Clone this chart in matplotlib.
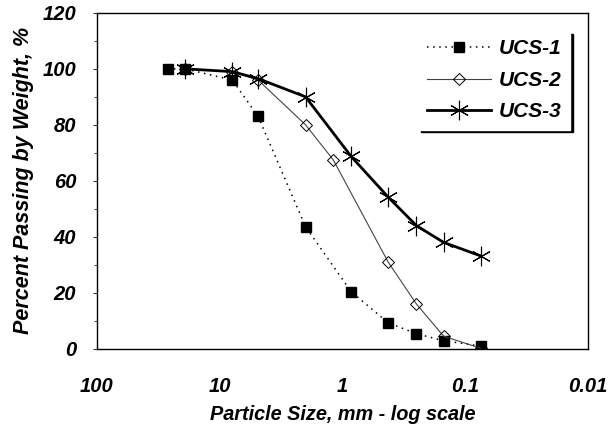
import matplotlib.pyplot as plt
from matplotlib.ticker import FixedLocator, MultipleLocator

plt.rcParams['font.family'] = ['Liberation Sans', 'DejaVu Sans']

# particle size (mm) and percent passing
size_1 = [26.5, 19.2, 7.9, 4.87, 2.0, 0.85, 0.425, 0.25, 0.15, 0.075]
pass_1 = [100, 100, 96, 83, 43.6, 20.4, 9.3, 5.4, 2.9, 1.0]

size_2 = [19.2, 7.9, 4.87, 2.0, 1.19, 0.425, 0.25, 0.15, 0.075]
pass_2 = [100, 99, 96, 80, 67.5, 31, 16, 4.5, 0.2]

size_3 = [19.2, 7.9, 4.87, 2.0, 0.85, 0.425, 0.25, 0.15, 0.075]
pass_3 = [100, 99, 96.5, 90, 68.7, 54.2, 44, 38, 33.2]

x_ticks = [100, 10, 1, 0.1, 0.01]
x_labels = ['100', '10', '1', '0.1', '0.01']

fig = plt.figure(figsize=(6.1, 4.28), dpi=100)
ax = fig.add_axes([0.159, 0.185, 0.805, 0.785])

ax.plot(size_1, pass_1, color='black', ls=(0, (1, 3)), lw=1.1,
        marker='s', ms=7.5, mfc='black', mec='black', label='UCS-1')
ax.plot(size_2, pass_2, color='#444444', ls='-', lw=0.8,
        marker='D', ms=6.5, mfc='none', mec='black', mew=0.7, label='UCS-2')
ax.plot(size_3, pass_3, color='black', ls='-', lw=2.0,
        marker=(6, 2, 0), ms=14, mec='black', mew=0.8, label='UCS-3')

ax.set_xscale('log')
ax.set_xlim(100, 0.01)
ax.set_ylim(0, 120)
ax.xaxis.set_major_locator(FixedLocator(x_ticks))
ax.set_xticklabels(x_labels)
ax.xaxis.set_minor_locator(FixedLocator([]))
ax.yaxis.set_major_locator(MultipleLocator(20))
ax.yaxis.set_minor_locator(MultipleLocator(10))

ax.tick_params(axis='x', length=0, pad=20, labelsize=14.5)
ax.tick_params(axis='y', which='major', length=3, width=0.6, pad=12, labelsize=14.5)
ax.tick_params(axis='y', which='minor', length=2, width=0.5)
for lab in ax.get_xticklabels() + ax.get_yticklabels():
    lab.set_fontweight('bold')
    lab.set_fontstyle('italic')

for sp in ax.spines.values():
    sp.set_linewidth(1.0)
    sp.set_color('black')

ax.set_xlabel('Particle Size, mm - log scale', fontsize=14.3, fontweight='bold',
              fontstyle='italic', labelpad=7)
ax.set_ylabel('Percent Passing by Weight, %', fontsize=15.5, fontweight='bold',
              fontstyle='italic', labelpad=6)

leg = ax.legend(loc='upper right', bbox_to_anchor=(0.963, 0.946), fontsize=15,
                frameon=True, fancybox=False, shadow={'color': 'black', 'alpha': 1},
                facecolor='white', edgecolor='white', handlelength=3.1,
                handletextpad=0.35, borderpad=0.4, labelspacing=0.6,
                borderaxespad=0)
for t in leg.get_texts():
    t.set_fontweight('bold')
    t.set_fontstyle('italic')

fig.savefig('out.png', dpi=100)
